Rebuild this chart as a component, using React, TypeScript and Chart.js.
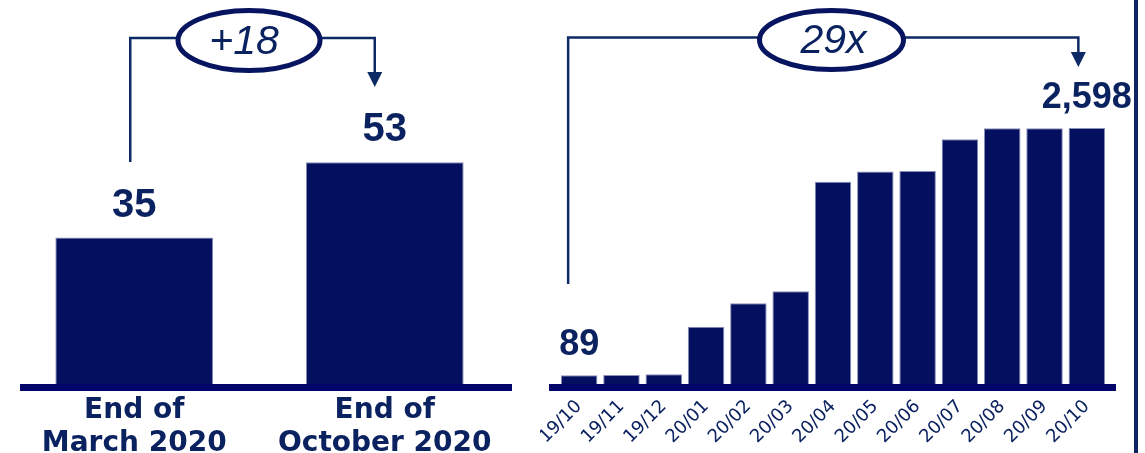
import React, { useEffect, useRef } from 'react';
import { Chart, registerables } from 'chart.js';

Chart.register(...registerables);

// ---------- data ----------
const leftCategories: string[][] = [['End of', 'March 2020'], ['End of', 'October 2020']];
const leftValues: number[] = [35, 53];
const leftValueLabels: string[] = ['35', '53'];
const leftDeltaText = '+18';

const rightCategories: string[] = ['19/10', '19/11', '19/12', '20/01', '20/02', '20/03', '20/04', '20/05', '20/06', '20/07', '20/08', '20/09', '20/10'];
const rightValues: number[] = [89, 92, 98, 582, 819, 941, 2053, 2155, 2162, 2483, 2595, 2595, 2598];
const rightValueLabels: string[] = ['89', '', '', '', '', '', '', '', '', '', '', '', '2,598'];
const rightDeltaText = '29x';

// ---------- styles ----------
const BAR = '#040f60';
const BAR_EDGE = '#8a8fb8';
const AXIS = '#02066a';
const TEXT = '#0b2260';
const LINE = '#0e2a66';
const OVAL = '#07145f';
const X_AXIS_HEIGHT = 69;

const valueLabelPlugin = {
  id: 'valueLabels',
  afterDatasetsDraw(chart: any, _args: any, opts: any) {
    const ctx = chart.ctx;
    const meta = chart.getDatasetMeta(0);
    ctx.save();
    ctx.fillStyle = TEXT;
    ctx.font = `bold ${opts.size}px "Liberation Sans", Arial, sans-serif`;
    ctx.textAlign = 'center';
    ctx.textBaseline = 'alphabetic';
    meta.data.forEach((bar: any, i: number) => {
      const t = opts.labels[i];
      if (!t) return;
      ctx.fillText(t, bar.x, bar.y - opts.gap);
    });
    ctx.restore();
  },
};

const axisLinePlugin = {
  id: 'axisLine',
  afterDatasetsDraw(chart: any, _args: any, opts: any) {
    const { ctx, chartArea } = chart;
    ctx.save();
    ctx.fillStyle = AXIS;
    ctx.fillRect(chartArea.left - opts.extLeft, chartArea.bottom, chartArea.right - chartArea.left + opts.extLeft + opts.extRight, opts.thickness);
    ctx.restore();
  },
};

const bracketPlugin = {
  id: 'bracket',
  afterDraw(chart: any, _args: any, opts: any) {
    const ctx = chart.ctx;
    const meta = chart.getDatasetMeta(0);
    const from = meta.data[opts.fromIndex];
    const to = meta.data[opts.toIndex];
    const x0 = from.x + opts.fromDx;
    const x1 = to.x + opts.toDx;
    ctx.save();
    ctx.strokeStyle = LINE;
    ctx.lineWidth = 2.5;
    ctx.beginPath();
    ctx.moveTo(x0, opts.fromBottomY);
    ctx.lineTo(x0, opts.lineY);
    ctx.lineTo(x1, opts.lineY);
    ctx.lineTo(x1, opts.arrowTipY - 14);
    ctx.stroke();
    ctx.fillStyle = LINE;
    ctx.beginPath();
    ctx.moveTo(x1 - 7.5, opts.arrowTipY - 15);
    ctx.lineTo(x1 + 7.5, opts.arrowTipY - 15);
    ctx.lineTo(x1, opts.arrowTipY);
    ctx.closePath();
    ctx.fill();
    // oval
    ctx.beginPath();
    ctx.ellipse(opts.ovalCx, opts.ovalCy, opts.rx, opts.ry, 0, 0, Math.PI * 2);
    ctx.fillStyle = '#ffffff';
    ctx.fill();
    ctx.lineWidth = 5;
    ctx.strokeStyle = OVAL;
    ctx.stroke();
    ctx.fillStyle = TEXT;
    ctx.font = `italic 41px "Liberation Sans", Arial, sans-serif`;
    ctx.textAlign = 'center';
    ctx.textBaseline = 'middle';
    ctx.fillText(opts.text, opts.ovalCx + opts.textDx, opts.ovalCy + 2);
    if (opts.edgeLineX !== undefined) {
      ctx.fillStyle = '#0d2563';
      ctx.fillRect(opts.edgeLineX, 0, 4, chart.height);
    }
    ctx.restore();
  },
};

const fixAxis = (scale: any) => {
  scale.height = X_AXIS_HEIGHT;
  scale.paddingLeft = 0;
  scale.paddingRight = 0;
};

export default function App() {
  const leftRef = useRef<HTMLCanvasElement>(null);
  const rightRef = useRef<HTMLCanvasElement>(null);

  useEffect(() => {
    const left = new Chart(leftRef.current as HTMLCanvasElement, {
      type: 'bar',
      data: {
        labels: leftCategories as any,
        datasets: [
          {
            data: leftValues,
            backgroundColor: BAR,
            borderColor: BAR_EDGE,
            borderWidth: 1,
            barPercentage: 0.63,
            categoryPercentage: 1,
          },
        ],
      },
      options: {
        animation: false,
        responsive: false,
        maintainAspectRatio: false,
        layout: { padding: { left: 9, right: 30, top: 10, bottom: 0 } },
        plugins: {
          legend: { display: false },
          tooltip: { enabled: false },
          valueLabels: { labels: leftValueLabels, size: 40, gap: 21 },
          axisLine: { extLeft: -11, extRight: 2, thickness: 7 },
          bracket: {
            fromIndex: 0, toIndex: 1, fromDx: -4, toDx: -10,
            lineY: 38, fromBottomY: 162, arrowTipY: 87,
            ovalCx: 249, ovalCy: 40.5, rx: 71, ry: 30, text: leftDeltaText, textDx: -5,
          },
        } as any,
        scales: {
          x: {
            afterFit: fixAxis,
            grid: { display: false, drawTicks: false },
            border: { display: false },
            ticks: {
              color: TEXT,
              font: { family: 'DejaVu Sans', size: 28, weight: 'bold', lineHeight: 1.18 },
              padding: 10,
              maxRotation: 0,
              minRotation: 0,
              autoSkip: false,
            },
          },
          y: { display: false, min: 0, max: 89.37 },
        },
      },
      plugins: [axisLinePlugin, valueLabelPlugin, bracketPlugin],
    });

    const right = new Chart(rightRef.current as HTMLCanvasElement, {
      type: 'bar',
      data: {
        labels: rightCategories,
        datasets: [
          {
            data: rightValues,
            backgroundColor: BAR,
            borderColor: BAR_EDGE,
            borderWidth: 1,
            barPercentage: 0.863,
            categoryPercentage: 1,
          },
        ],
      },
      options: {
        animation: false,
        responsive: false,
        maintainAspectRatio: false,
        layout: { padding: { left: 18, right: 37, top: 10, bottom: 0 } },
        plugins: {
          legend: { display: false },
          tooltip: { enabled: false },
          valueLabels: { labels: rightValueLabels, size: 36, gap: 20 },
          axisLine: { extLeft: 9, extRight: 8, thickness: 7 },
          bracket: {
            fromIndex: 0, toIndex: rightValues.length - 1, fromDx: -11, toDx: -8.5,
            lineY: 37.5, fromBottomY: 284, arrowTipY: 67,
            ovalCx: 291.5, ovalCy: 40, rx: 72, ry: 29.5, text: rightDeltaText, textDx: 2,
            edgeLineX: 594,
          },
        } as any,
        scales: {
          x: {
            afterFit: fixAxis,
            grid: { display: false, drawTicks: false },
            border: { display: false },
            ticks: {
              color: TEXT,
              font: { family: 'DejaVu Sans', size: 18 },
              padding: 12,
              maxRotation: 45,
              minRotation: 45,
              autoSkip: false,
            },
          },
          y: { display: false, min: 0, max: 3795 },
        },
      },
      plugins: [axisLinePlugin, valueLabelPlugin, bracketPlugin],
    });

    return () => {
      left.destroy();
      right.destroy();
    };
  }, []);

  return (
    <div style={{ position: 'absolute', left: 0, top: 0, width: 1145, height: 453, overflow: 'hidden', background: '#ffffff' }}>
      <canvas ref={leftRef} width={540} height={453} style={{ position: 'absolute', left: 0, top: 0 }} />
      <canvas ref={rightRef} width={605} height={453} style={{ position: 'absolute', left: 540, top: 0 }} />
    </div>
  );
}
